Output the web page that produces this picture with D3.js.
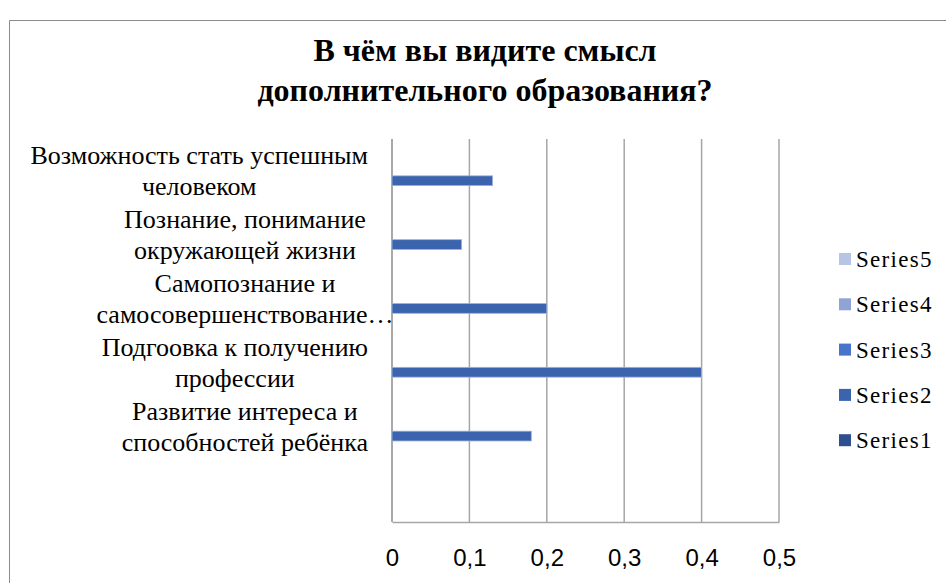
<!DOCTYPE html>
<html lang="ru">
<head>
<meta charset="utf-8">
<title>В чём вы видите смысл дополнительного образования?</title>
<style>
  html, body { margin:0; padding:0; background:#fff; overflow:hidden; }
  svg { display:block; }
  .cat { font-family:"Liberation Serif","Times New Roman",serif; font-size:26px; fill:#000; }
  .leg { font-family:"Liberation Serif","Times New Roman",serif; font-size:23px; fill:#000; letter-spacing:1.3px; }
  .tick text { font-family:"Liberation Sans Narrow","Liberation Sans",sans-serif; font-size:24px; fill:#000; }
  .title { font-family:"Liberation Serif","Times New Roman",serif; font-weight:bold; font-size:32px; fill:#000; }
</style>
</head>
<body>
<svg id="chart" width="946" height="583"></svg>
<script src="https://d3js.org/d3.v7.min.js"></script>
<script>
// категории сверху вниз (нижняя категория пустая)
const categories = [
  ["Возможность стать успешным", "человеком"],
  ["Познание, понимание", "окружающей жизни"],
  ["Самопознание и", "самосовершенствование…"],
  ["Подгоовка к получению", "профессии"],
  ["Развитие интереса и", "способностей ребёнка"],
  []
];
const series = ["Series1", "Series2", "Series3", "Series4", "Series5"];
const seriesColors = ["#2f5090", "#3c64ae", "#4775c9", "#8fa4d4", "#b8c4e4"];
// значения по категориям (в том же порядке)
const series1 = [null, null, null, null, null, null];
const series2 = [0.13, 0.09, 0.2, 0.4, 0.18, null];
const series3 = [null, null, null, null, null, null];
const series4 = [null, null, null, null, null, null];
const series5 = [null, null, null, null, null, null];
const seriesValues = [series1, series2, series3, series4, series5];
const xTicks = [0, 0.1, 0.2, 0.3, 0.4, 0.5];
const titleLines = ["В чём вы видите смысл", "дополнительного образования?"];

const svg = d3.select("#chart");

// рамка диаграммы
svg.append("path")
  .attr("d", "M9.5,583 V20.5 H946")
  .attr("fill", "none").attr("stroke", "#8c8c8c").attr("stroke-width", 1);

// заголовок
svg.append("text").attr("class", "title")
  .attr("text-anchor", "middle")
  .selectAll("tspan").data(titleLines).join("tspan")
  .attr("x", 485).attr("y", (d, i) => 61 + i * 40)
  .text(d => d);

const plot = { left: 392, right: 779, top: 139, bottom: 522 };

const x = d3.scaleLinear().domain([0, 0.5]).range([plot.left, plot.right]);
const y = d3.scaleBand().domain(d3.range(categories.length))
  .range([plot.top, plot.bottom]).padding(0);
// внутри категории: Series1 снизу, зазор 150%
const ys = d3.scaleBand().domain(series.slice().reverse())
  .range([0, y.bandwidth()]).paddingInner(0).paddingOuter(0.75);

// сетка
svg.append("g").selectAll("line").data(xTicks.slice(1)).join("line")
  .attr("x1", d => x(d)).attr("x2", d => x(d))
  .attr("y1", plot.top).attr("y2", plot.bottom)
  .attr("stroke", "#a6a6a6").attr("stroke-width", 1.5);

// ось значений (подписи)
const xAxis = d3.axisBottom(x).tickValues(xTicks)
  .tickFormat(d => d3.format(".1f")(d).replace(".", ",").replace(/^0,0$/, "0"))
  .tickSize(0).tickPadding(27);
const gx = svg.append("g").attr("transform", `translate(0,${plot.bottom})`).call(xAxis);
gx.select(".domain").attr("stroke", "#a6a6a6").attr("stroke-width", 1.5);

// вертикальная ось категорий
svg.append("line")
  .attr("x1", x(0)).attr("x2", x(0)).attr("y1", plot.top).attr("y2", plot.bottom)
  .attr("stroke", "#8c8c8c").attr("stroke-width", 1.5);

// столбцы
const bars = [];
seriesValues.forEach((vals, si) => vals.forEach((v, ci) => {
  if (v != null) bars.push({ s: series[si], si, ci, v });
}));
svg.append("g").selectAll("rect").data(bars).join("rect")
  .attr("x", x(0))
  .attr("y", d => y(d.ci) + ys(d.s))
  .attr("width", d => x(d.v) - x(0))
  .attr("height", ys.bandwidth())
  .attr("fill", d => seriesColors[d.si])
  .attr("stroke", "#9fb3dd").attr("stroke-width", 0.8);

// подписи категорий
const labelRight = 368, labelCenter = 245;
const gl = svg.append("g");
categories.forEach((lines, ci) => {
  if (!lines.length) return;
  const t = gl.append("text").attr("class", "cat").attr("text-anchor", "middle");
  const lh = 31;
  const y0 = y(ci) + y.bandwidth() / 2 - (lines.length - 1) * lh / 2 + 9;
  const spans = t.selectAll("tspan").data(lines).join("tspan")
    .attr("y", (d, i) => y0 + i * lh).text(d => d);
  let maxW = 0;
  spans.each(function(d) { if (!d.endsWith("…")) maxW = Math.max(maxW, this.getComputedTextLength()); });
  const cx = Math.min(labelCenter, labelRight - maxW / 2);
  spans.attr("x", cx);
});

// легенда
const legend = svg.append("g");
const legItems = series.slice().reverse();
legItems.forEach((s, i) => {
  const yy = 259 + i * 45.3;
  legend.append("rect").attr("x", 839).attr("y", yy - 6).attr("width", 12).attr("height", 12)
    .attr("fill", seriesColors[series.indexOf(s)]);
  legend.append("text").attr("class", "leg").attr("x", 856).attr("y", yy + 8).text(s);
});
</script>
</body>
</html>
